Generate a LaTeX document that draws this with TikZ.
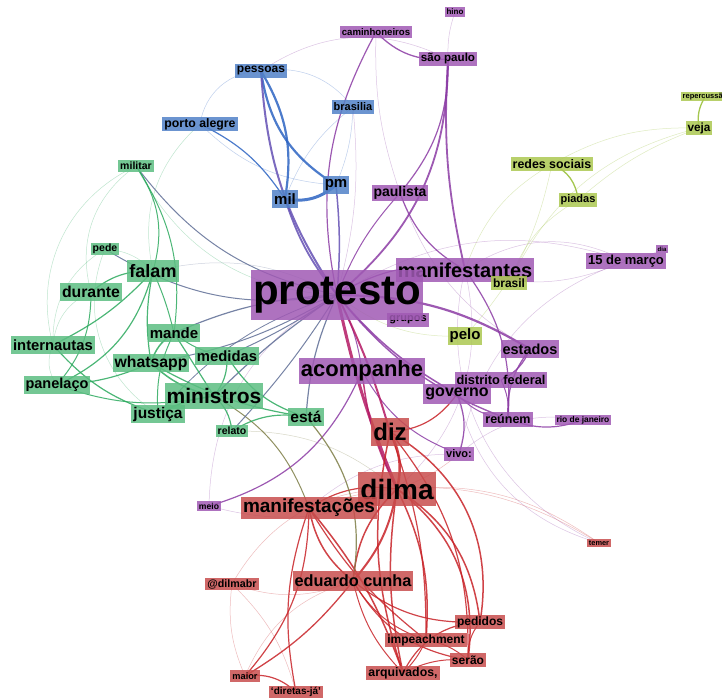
\documentclass[tikz,border=0pt]{standalone}
\usepackage{fontspec}
\setmainfont{Liberation Sans}
\usetikzlibrary{backgrounds}
\definecolor{cpur}{RGB}{160,90,180}
\definecolor{cblu}{RGB}{82,130,200}
\definecolor{cgrn}{RGB}{92,190,130}
\definecolor{cred}{RGB}{200,78,78}
\definecolor{cylw}{RGB}{172,200,82}
\definecolor{epur}{RGB}{140,60,165}
\definecolor{ebp}{RGB}{100,80,180}
\definecolor{eblu}{RGB}{45,100,195}
\definecolor{egrn}{RGB}{45,170,95}
\definecolor{ered}{RGB}{200,35,40}
\definecolor{eylw}{RGB}{150,190,50}
\definecolor{esla}{RGB}{95,110,150}
\definecolor{eoli}{RGB}{125,125,70}
\definecolor{ecri}{RGB}{180,25,100}
\tikzset{
  lbl/.style={fill opacity=.85, text opacity=1, text=black, inner xsep=2pt, inner ysep=0pt, minimum height={1.2*(#1)*1pt}, font=\fontsize{#1}{#1}\selectfont\bfseries},
  pur/.style={lbl=#1, fill=cpur},
  blu/.style={lbl=#1, fill=cblu},
  grn/.style={lbl=#1, fill=cgrn},
  rdd/.style={lbl=#1, fill=cred},
  ylw/.style={lbl=#1, fill=cylw},
  faint/.style={line width=.5pt, opacity=.3},
}
\begin{document}
\begin{tikzpicture}[x=1pt, y=1pt]
\useasboundingbox (0,0) rectangle (722,-700);
% labels, one loop per community
\foreach \n/\x/\y/\s/\t in {hino/455/12/8/hino, cam/376/32/9.6/caminhoneiros, sp/448/59/11.6/são paulo, pau/400/193/14/paulista, dia/662/249/6/dia, mar/626/261/13/15 de março, man/465/270/20/manifestantes, grp/408/320/11/grupos, pro/337/295/42/protesto, acp/362/371/22/acompanhe, est/530/349/14.5/estados, df/501/380/12.8/distrito federal, gov/457/394/16/governo, reu/508/419/12.5/reúnem, rj/583/420/8.4/rio de janeiro, viv/459/454/11/vivo:, meio/209/506/8.6/meio}
  {\node[pur=\s] (\n) at (\x,-\y) {\t};}
\foreach \n/\x/\y/\s/\t in {pes/261/71/12/pessoas, bra/353/107/11/brasilia, poa/200/124/12.3/porto alegre, pm/336/185/15/pm, mil/285/199/15/mil}
  {\node[blu=\s] (\n) at (\x,-\y) {\t};}
\foreach \n/\x/\y/\s/\t in {mili/136/166/10.5/militar, pede/105/249/10.5/pede, fal/153/271/18/falam, dur/91/292/15.8/durante, mand/174/333/15/mande, int/53/345/14.8/internautas, wha/151/363/15.8/whatsapp, med/227/356/14.8/medidas, pan/57/385/14.5/panelaço, min/214/396/21/ministros, jus/158/414/15.5/justiça, esta/306/417/15.5/está, rel/232/431/10.5/relato}
  {\node[grn=\s] (\n) at (\x,-\y) {\t};}
\foreach \n/\x/\y/\s/\t in {rep/705/97/7.5/repercussão, veja/699/128/11.8/veja, rs/552/164/12.4/redes sociais, pia/578/200/11/piadas, bras/509/283/12/brasil, pelo/465/336/15/pelo}
  {\node[ylw=\s] (\n) at (\x,-\y) {\t};}
\foreach \n/\x/\y/\s/\t in {diz/390/432/24/diz, dil/397/489/28/dilma, mfs/309/508/19/manifestações, tem/599/543/7.4/temer, dbr/232/584/10.7/@dilmabr, edu/353/581/16.3/eduardo cunha, ped/480/622/12/pedidos, imp/426/640/12/impeachment, ser/468/660/12/serão, arq/403/673/12.3/{arquivados,}, mai/245/676/9.2/maior, dj/296/692/10/‘diretas-já’}
  {\node[rdd=\s] (\n) at (\x,-\y) {\t};}
\begin{scope}[on background layer]
\fill[white] (0,0) rectangle (722,-700);
% weak ties
\foreach \a/\b/\c/\k in {pes/poa/-40/eblu, pes/bra/30/eblu, bra/mil/-15/eblu, bra/pm/10/eblu, poa/pm/-20/eblu, poa/fal/-30/egrn, hino/sp/-10/epur, mar/man/20/epur, dia/mar/10/epur, pro/mar/25/epur, pau/est/-20/epur, mar/viv/-30/epur, rj/viv/-25/epur, tem/man/40/epur, tem/gov/30/epur, viv/mfs/-20/epur, dil/man/-30/epur, bra/pro/10/epur, pes/sp/30/epur, cam/pau/-10/epur, man/mar/30/epur, meio/dil/-20/epur, meio/pro/30/epur, veja/rs/-15/eylw, veja/pia/-10/eylw, rs/man/-20/eylw, rs/pelo/15/eylw, pia/bras/-20/eylw, veja/bras/-25/eylw, pelo/pro/20/eylw, bras/man/10/eylw, dbr/mai/-15/ered, dbr/dj/15/ered, dbr/dil/30/ered, dbr/edu/-20/ered, tem/dil/-20/ered, tem/mfs/-25/ered, viv/dil/10/ered, mai/edu/25/ered, rel/dil/20/eoli, int/pan/-30/egrn, int/dur/30/egrn, pede/fal/20/egrn, pede/int/-30/egrn, mili/dur/-35/egrn, mili/int/-40/egrn, pro/fal/-20/esla, mili/pro/-30/egrn, pede/jus/-40/egrn}
  {\draw[draw=\k, faint] (\a.center) to[bend left=\c] (\b.center);}
% strong ties
\foreach \a/\b/\w/\c/\k in {pes/mil/2.2/20/eblu, pes/pm/2.2/-25/eblu, mil/pm/3/-25/eblu, poa/mil/1.2/15/eblu,
  pes/pro/2/-15/ebp, mil/pro/1.8/-10/ebp, pm/pro/1.5/5/ebp, cam/pro/1.2/-20/epur, cam/sp/1.3/-25/epur, sp/pro/1.8/25/epur, sp/man/1.8/-8/epur, sp/pau/1.2/20/epur, pau/pro/1/-10/epur, pau/man/1.2/-20/epur, pro/man/1.2/20/epur, pro/est/2.2/15/epur, man/reu/1.2/20/epur, pro/gov/1.5/-10/epur, pro/reu/1.4/-15/epur, est/df/1.3/20/epur, est/reu/1.3/-20/epur, df/reu/1/15/epur, gov/reu/1/-20/epur, reu/rj/1.2/-20/epur, gov/viv/1.2/20/epur, acp/viv/1/-20/epur, pro/acp/1/10/epur, meio/acp/1.2/-25/epur,
  pro/dil/3/-5/ecri, pro/diz/2/5/ecri, acp/dil/1.5/-10/ecri,
  diz/dil/2.5/20/ered, dil/edu/2/15/ered, dil/edu/1.5/-20/ered, dil/ped/1.5/25/ered, dil/imp/1.5/15/ered, dil/ser/1.5/30/ered, dil/arq/1.5/-10/ered, diz/ped/1.5/35/ered, diz/imp/1.2/10/ered, diz/arq/1.5/-15/ered, diz/ser/1.2/20/ered, mfs/edu/1.5/-20/ered, mfs/dil/1.2/20/ered, mfs/arq/1.5/10/ered, mfs/imp/1.2/-10/ered, mfs/mai/1.2/20/ered, mfs/dj/1.2/-15/ered, edu/ped/1.2/-20/ered, edu/imp/1/-20/ered, edu/ser/1.2/-25/ered, edu/arq/1/-15/ered, edu/mai/1.3/10/ered, mai/dj/1.2/25/ered, imp/ser/1/15/ered, ped/ser/1/-20/ered, ped/arq/1.2/-30/ered, ser/arq/1/-15/ered, imp/arq/1/10/ered, diz/gov/1.2/-25/ered,
  esta/edu/1.2/25/eoli, min/mfs/1/20/eoli,
  pro/mili/1/20/esla, pro/pede/1/20/esla, pro/mand/1.2/-10/esla, pro/wha/1/10/esla, pro/min/1.2/-5/esla, pro/med/1/5/esla, pro/rel/1/5/esla, pro/esta/1.2/-10/esla, pro/jus/.8/-15/esla,
  mili/fal/1/25/egrn, mili/mand/1/20/egrn, fal/dur/1.2/-20/egrn, fal/int/1.2/10/egrn, fal/pan/1.2/25/egrn, dur/pan/1/20/egrn, int/jus/1.2/-15/egrn, pan/wha/1.2/-10/egrn, pan/min/1/-15/egrn, wha/mand/1.5/20/egrn, wha/min/1.5/-15/egrn, jus/min/1.5/10/egrn, mand/min/1.2/0/egrn, mand/med/1/-15/egrn, med/min/1.2/20/egrn, med/esta/1.2/-20/egrn, wha/esta/1.2/-10/egrn, min/rel/1.2/20/egrn, rel/esta/1.2/20/egrn, jus/mand/1/15/egrn, fal/wha/1.2/-10/egrn, fal/mand/1/5/egrn,
  rs/pia/1.3/30/eylw, veja/rep/1.3/20/eylw}
  {\draw[draw=\k, line width=\w pt, opacity=.85] (\a.center) to[bend left=\c] (\b.center);}
\end{scope}
\end{tikzpicture}
\end{document}
